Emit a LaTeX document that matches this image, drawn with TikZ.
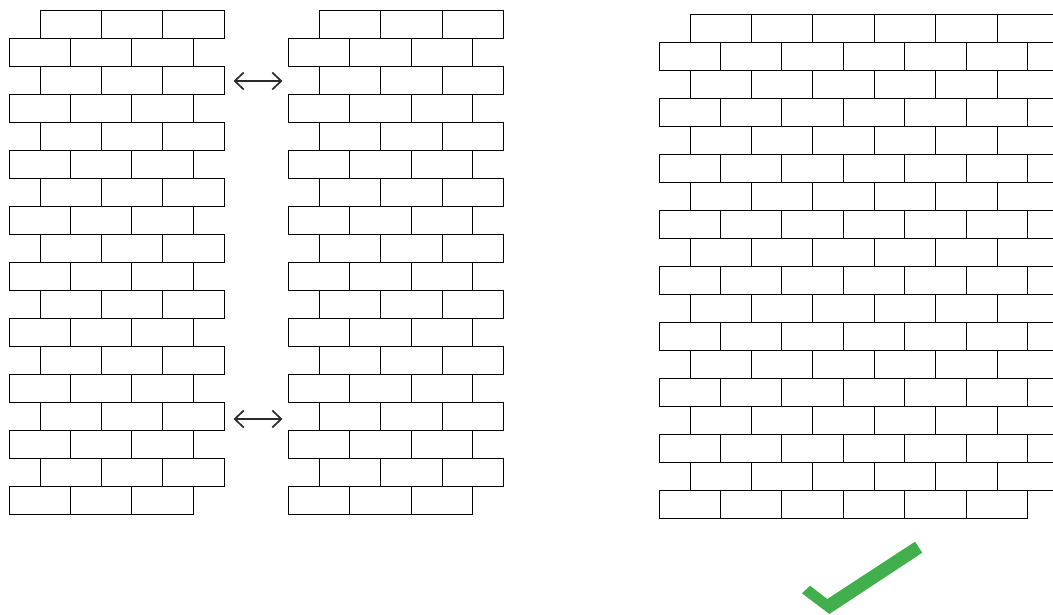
\documentclass[tikz,border=0pt]{standalone}
\usetikzlibrary{arrows.meta}
\definecolor{checkgreen}{HTML}{41AF4B}
\definecolor{arrowgray}{HTML}{2B2B2B}
\begin{document}
\begin{tikzpicture}[x=1pt,y=-1pt,
  brick/.style={draw=black,line width=0.9pt},
  swaparrow/.style={arrowgray,line width=1.7pt,{Straight Barb[length=9pt,width=17pt]}-{Straight Barb[length=9pt,width=17pt]}}]
\useasboundingbox (0,0) rectangle (1053,615);
\clip (0,0) rectangle (1053,615);
% left wall A and middle wall B
\foreach \i in {0,2,...,16}{
  \foreach \j in {0,1,2}{
    \draw[brick] ({40+61.33*\j},{10+28*\i}) rectangle ++(61.33,28);
    \draw[brick] ({319.3+61.33*\j},{10+28*\i}) rectangle ++(61.33,28);
  }
}
\foreach \i in {1,3,...,17}{
  \foreach \j in {0,1,2}{
    \draw[brick] ({9+61.33*\j},{10+28*\i}) rectangle ++(61.33,28);
    \draw[brick] ({288.3+61.33*\j},{10+28*\i}) rectangle ++(61.33,28);
  }
}
% right wall C
\foreach \i in {0,2,...,16}{
  \foreach \j in {0,...,5}{
    \draw[brick] ({690+61.4*\j},{14+28*\i}) rectangle ++(61.4,28);
  }
}
\foreach \i in {1,3,...,15}{
  \foreach \j in {0,...,6}{
    \draw[brick] ({659+61.4*\j},{14+28*\i}) rectangle ++(61.4,28);
  }
}
\foreach \j in {0,...,5}{
  \draw[brick] ({659+61.4*\j},{14+28*17}) rectangle ++(61.4,28);
}
% arrows
\coordinate (a1l) at (233.5,81);
\coordinate (a1r) at (282.5,81);
\coordinate (a2l) at (233.5,419);
\coordinate (a2r) at (282.5,419);
\draw[swaparrow] (a1l) -- (a1r);
\draw[swaparrow] (a2l) -- (a2r);
% check mark
\fill[checkgreen] (802,593.3) -- (810,585.7) -- (827.3,599) -- (915,541.7) -- (922.3,552.7) -- (829.3,614) -- cycle;
\end{tikzpicture}
\end{document}
